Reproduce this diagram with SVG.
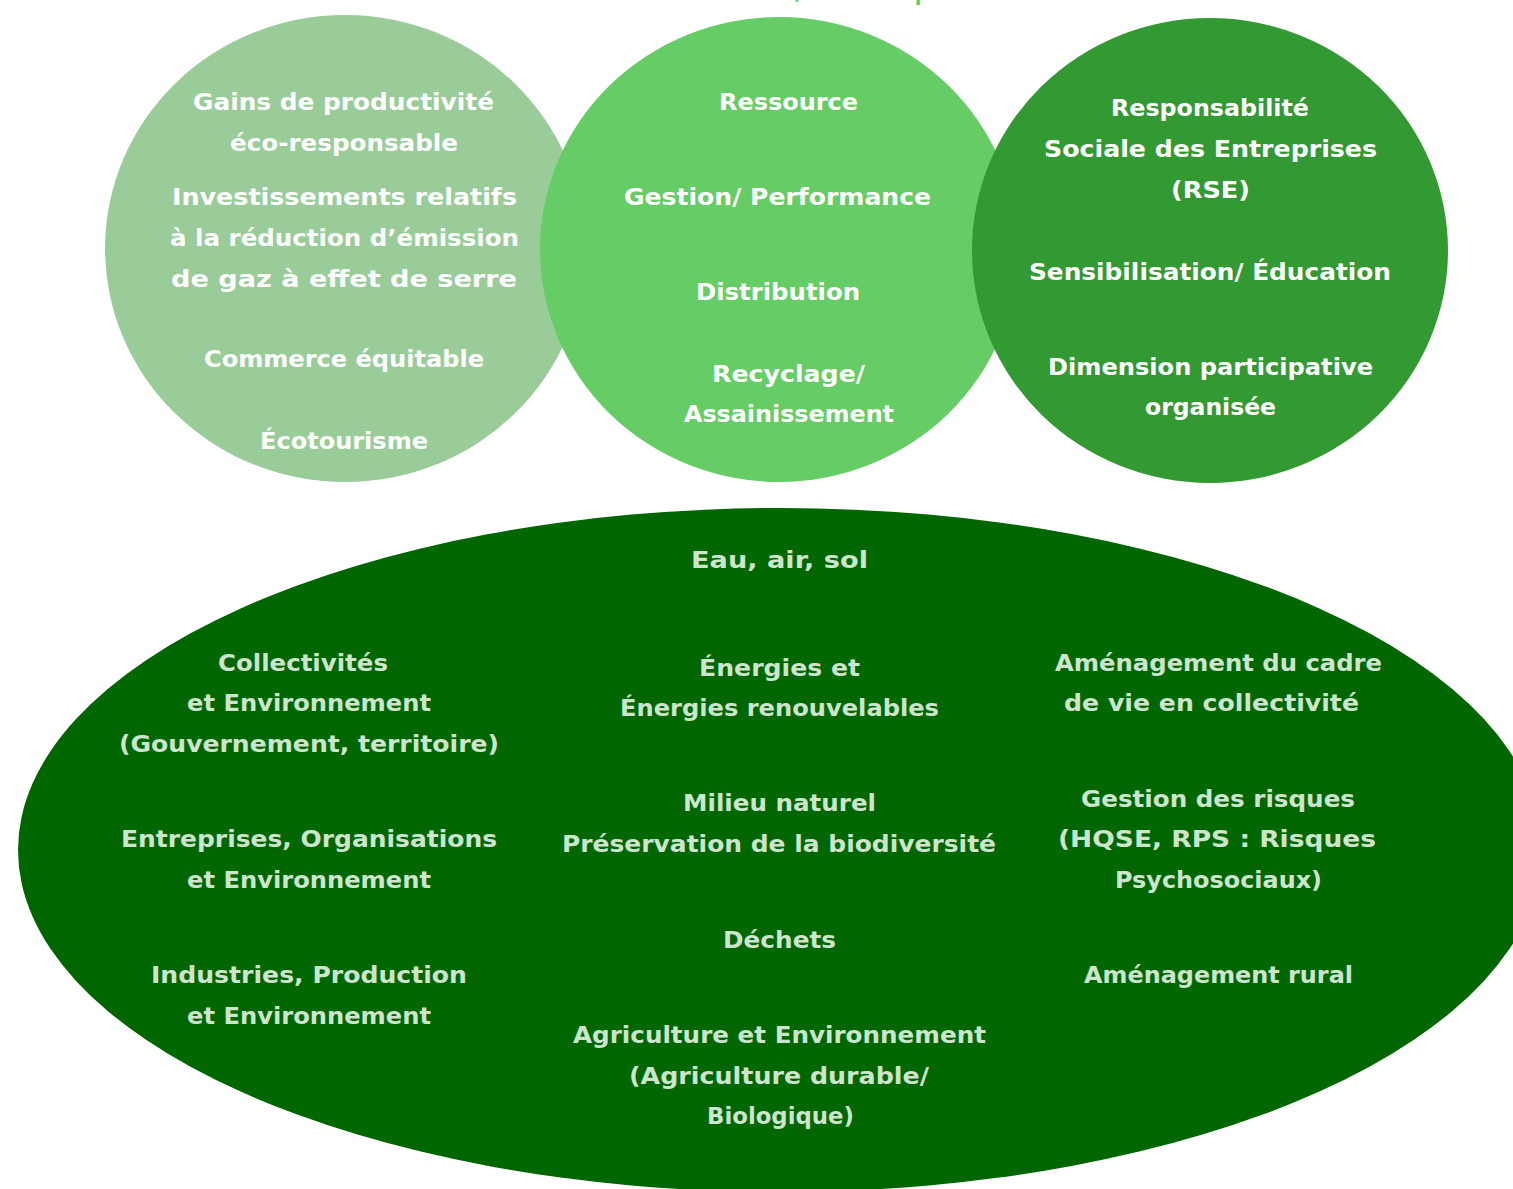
<svg xmlns="http://www.w3.org/2000/svg" width="1513" height="1189" viewBox="0 0 1513 1189">
<style>
text{font-family:"DejaVu Sans","Liberation Sans",sans-serif;font-weight:bold;font-size:23px}
.w{fill:#ffffff}
.p{fill:#cce5cc}
.t{fill:#66cc66}
</style>
<rect width="1513" height="1189" fill="#ffffff"/>
<g id="title"><text class="t" x="620" y="0" textLength="330" lengthAdjust="spacingAndGlyphs">Environnement/ Économique</text></g>
<g id="bottom-ellipse">
<ellipse cx="780" cy="850" rx="762" ry="342" fill="#006600"/>
<text class="p" x="691" y="568" textLength="177" lengthAdjust="spacingAndGlyphs">Eau, air, sol</text>
<text class="p" x="218" y="671" textLength="170" lengthAdjust="spacingAndGlyphs">Collectivités</text>
<text class="p" x="187" y="711" textLength="244" lengthAdjust="spacingAndGlyphs">et Environnement</text>
<text class="p" x="119" y="752" textLength="380" lengthAdjust="spacingAndGlyphs">(Gouvernement, territoire)</text>
<text class="p" x="121" y="847" textLength="376" lengthAdjust="spacingAndGlyphs">Entreprises, Organisations</text>
<text class="p" x="187" y="888" textLength="244" lengthAdjust="spacingAndGlyphs">et Environnement</text>
<text class="p" x="151" y="983" textLength="316" lengthAdjust="spacingAndGlyphs">Industries, Production</text>
<text class="p" x="187" y="1024" textLength="244" lengthAdjust="spacingAndGlyphs">et Environnement</text>
<text class="p" x="699" y="676" textLength="161" lengthAdjust="spacingAndGlyphs">Énergies et</text>
<text class="p" x="620" y="716" textLength="319" lengthAdjust="spacingAndGlyphs">Énergies renouvelables</text>
<text class="p" x="683" y="811" textLength="193" lengthAdjust="spacingAndGlyphs">Milieu naturel</text>
<text class="p" x="562" y="852" textLength="434" lengthAdjust="spacingAndGlyphs">Préservation de la biodiversité</text>
<text class="p" x="723" y="948" textLength="113" lengthAdjust="spacingAndGlyphs">Déchets</text>
<text class="p" x="573" y="1043" textLength="413" lengthAdjust="spacingAndGlyphs">Agriculture et Environnement</text>
<text class="p" x="629" y="1084" textLength="300" lengthAdjust="spacingAndGlyphs">(Agriculture durable/</text>
<text class="p" x="707" y="1124" textLength="147" lengthAdjust="spacingAndGlyphs">Biologique)</text>
<text class="p" x="1055" y="671" textLength="327" lengthAdjust="spacingAndGlyphs">Aménagement du cadre</text>
<text class="p" x="1064" y="711" textLength="295" lengthAdjust="spacingAndGlyphs">de vie en collectivité</text>
<text class="p" x="1081" y="807" textLength="274" lengthAdjust="spacingAndGlyphs">Gestion des risques</text>
<text class="p" x="1058" y="847" textLength="318" lengthAdjust="spacingAndGlyphs">(HQSE, RPS : Risques</text>
<text class="p" x="1115" y="888" textLength="207" lengthAdjust="spacingAndGlyphs">Psychosociaux)</text>
<text class="p" x="1084" y="983" textLength="269" lengthAdjust="spacingAndGlyphs">Aménagement rural</text>
</g>
<g id="circle-left">
<ellipse cx="345" cy="248.5" rx="240" ry="233.5" fill="#99cc99"/>
<text class="w" x="193" y="110" textLength="301" lengthAdjust="spacingAndGlyphs">Gains de productivité</text>
<text class="w" x="230" y="151" textLength="228" lengthAdjust="spacingAndGlyphs">éco-responsable</text>
<text class="w" x="172" y="205" textLength="345" lengthAdjust="spacingAndGlyphs">Investissements relatifs</text>
<text class="w" x="170" y="246" textLength="349" lengthAdjust="spacingAndGlyphs">à la réduction d’émission</text>
<text class="w" x="171" y="287" textLength="346" lengthAdjust="spacingAndGlyphs">de gaz à effet de serre</text>
<text class="w" x="204" y="367" textLength="280" lengthAdjust="spacingAndGlyphs">Commerce équitable</text>
<text class="w" x="260" y="449" textLength="168" lengthAdjust="spacingAndGlyphs">Écotourisme</text>
</g>
<g id="circle-middle">
<ellipse cx="779" cy="249.5" rx="239" ry="232.5" fill="#66cc66"/>
<text class="w" x="719" y="110" textLength="139" lengthAdjust="spacingAndGlyphs">Ressource</text>
<text class="w" x="624" y="205" textLength="307" lengthAdjust="spacingAndGlyphs">Gestion/ Performance</text>
<text class="w" x="696" y="300" textLength="164" lengthAdjust="spacingAndGlyphs">Distribution</text>
<text class="w" x="712" y="382" textLength="153" lengthAdjust="spacingAndGlyphs">Recyclage/</text>
<text class="w" x="684" y="422" textLength="210" lengthAdjust="spacingAndGlyphs">Assainissement</text>
</g>
<g id="circle-right">
<ellipse cx="1210" cy="250.5" rx="238" ry="232.5" fill="#339933"/>
<text class="w" x="1111" y="116" textLength="198" lengthAdjust="spacingAndGlyphs">Responsabilité</text>
<text class="w" x="1044" y="157" textLength="333" lengthAdjust="spacingAndGlyphs">Sociale des Entreprises</text>
<text class="w" x="1171" y="198" textLength="79" lengthAdjust="spacingAndGlyphs">(RSE)</text>
<text class="w" x="1029" y="280" textLength="362" lengthAdjust="spacingAndGlyphs">Sensibilisation/ Éducation</text>
<text class="w" x="1048" y="375" textLength="325" lengthAdjust="spacingAndGlyphs">Dimension participative</text>
<text class="w" x="1145" y="415" textLength="131" lengthAdjust="spacingAndGlyphs">organisée</text>
</g>
<g id="connectors"></g>
</svg>
